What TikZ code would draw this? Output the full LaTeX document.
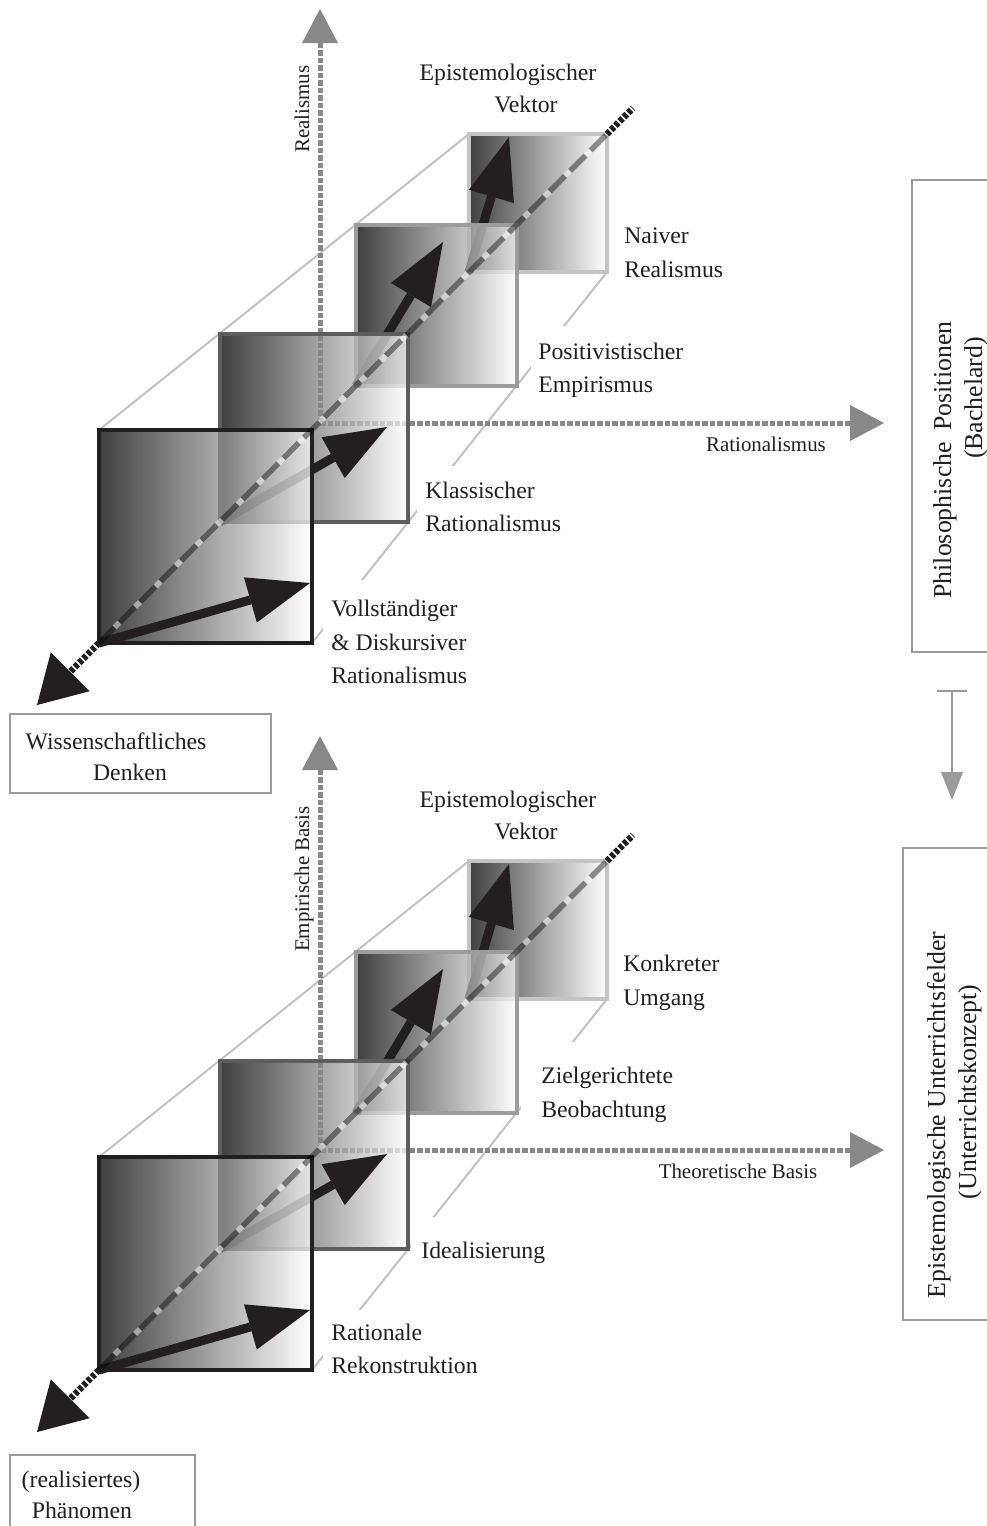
\documentclass[tikz,border=0pt]{standalone}
\usepackage{fontspec}
\setmainfont{Liberation Serif}
\usetikzlibrary{arrows.meta}
\definecolor{ink}{HTML}{231F20}
\definecolor{axisgray}{HTML}{888888}
\definecolor{persp}{HTML}{C2C2C2}
\definecolor{boxgray}{HTML}{9A9A9A}
\definecolor{bordA}{HTML}{231F20}
\definecolor{bordB}{HTML}{5E5C5C}
\definecolor{bordC}{HTML}{9C9C9C}
\definecolor{bordD}{HTML}{C4C4C4}
\newcommand\lblfont{\fontsize{13.5pt}{18.8pt}\selectfont}
\newcommand\sidefont{\fontsize{14.7pt}{18.8pt}\selectfont}
\newcommand\axfont{\fontsize{11.9pt}{14pt}\selectfont}
\tikzset{
  lbl/.style={font=\lblfont, inner sep=0pt, text=ink},
  sidelbl/.style={font=\sidefont, inner sep=0pt, text=ink, rotate=90, anchor=base},
  axlbl/.style={font=\axfont, inner sep=0pt, text=ink},
  persline/.style={draw=persp, line width=0.04cm},
  axisline/.style={draw=axisgray, line width=0.1cm, dash pattern=on 0.11cm off 0.04cm,
    -{Triangle[length=0.68cm,width=0.72cm,line width=0pt]}},
  sqbox/.style={line width=0.08cm, left color=black, right color=white, fill opacity=0.75},
  vec/.style={draw=ink, line width=0.18cm, -{Triangle[length=1.24cm,width=0.94cm,line width=0pt]}},
  diagout/.style={draw=ink, line width=0.13cm, dash pattern=on 0.08cm off 0.04cm},
  ghostdark/.style={draw=black, line width=0.11cm, draw opacity=0.42, dash pattern=on 0.44cm off 0.14cm},
  ghostlight/.style={draw=white, line width=0.11cm, draw opacity=0.45, dash pattern=on 0.14cm off 0.44cm, dash phase=0.14cm},
  textbox/.style={draw=boxgray, line width=0.04cm, inner sep=0pt},
  flow/.style={draw=boxgray, line width=0.04cm,
    {Bar[width=0.6cm]}-{Triangle[length=0.56cm,width=0.44cm,line width=0pt]}},
}
\newcommand\epiblock{%
  \draw[persline] (99,430) -- (469,134);
  \draw[persline] (312,643) -- (607,272);
  \draw[axisline] (320,423) -- (320,9);
  \draw[axisline] (320,423) -- (884,423);
  \path[sqbox, draw=bordD] (469,134) rectangle (607,272);
  \draw[vec] (469,272) -- (509,137);
  \path[sqbox, draw=bordC] (356,225) rectangle (517,386);
  \draw[vec] (356,386) -- (443,242);
  \path[sqbox, draw=bordB] (220,334) rectangle (408,522);
  \draw[vec] (220,522) -- (387,427);
  \path[sqbox, draw=bordA] (99,430) rectangle (312,643);
  \draw[vec] (99,643) -- (310,583);
  \draw[ghostdark] (99,643) -- (607,134);
  \draw[ghostlight] (99,643) -- (607,134);
  \draw[diagout, -{Triangle[length=0.94cm,width=1.1cm,line width=0pt]}] (99,643) -- (37,705);
  \draw[diagout] (607,134) -- (633,108);
}
\begin{document}
\begin{tikzpicture}[x=0.02cm, y=-0.02cm]
\useasboundingbox (0,0) rectangle (987,1526);
\clip (0,0) rectangle (987,1526);
\fill[white] (0,0) rectangle (987,1526);

\begin{scope}
  \epiblock
\end{scope}
\begin{scope}[shift={(0,727)}]
  \epiblock
\end{scope}

% white text frames hiding the perspective line
\fill[white] (531,326) rectangle (705,400);
\fill[white] (417,466) rectangle (570,540);
\fill[white] (323,580) rectangle (475,690);
\fill[white] (521,1042) rectangle (700,1125);
\fill[white] (411,1217) rectangle (560,1268);
\fill[white] (323,1310) rectangle (490,1385);

% top block labels
\node[lbl, anchor=base] (epiA1) at (508,80) {Epistemologischer};
\node[lbl, anchor=base] (epiA2) at (526,112) {Vektor};
\node[lbl, anchor=base west] (naivA) at (624,243) {Naiver};
\node[lbl, anchor=base west] (naivB) at (624,277) {Realismus};
\node[lbl, anchor=base west] (posA) at (538,359) {Positivistischer};
\node[lbl, anchor=base west] (posB) at (538,392) {Empirismus};
\node[lbl, anchor=base west] (klaA) at (425,498) {Klassischer};
\node[lbl, anchor=base west] (klaB) at (425,531) {Rationalismus};
\node[lbl, anchor=base west] (vollA) at (331,616) {Vollständiger};
\node[lbl, anchor=base west] (vollB) at (331,650) {\& Diskursiver};
\node[lbl, anchor=base west] (vollC) at (331,683) {Rationalismus};
\node[axlbl, anchor=base, rotate=90] (axReal) at (309,109) {Realismus};
\node[axlbl, anchor=base] (axRat) at (766,451) {Rationalismus};

% bottom block labels
\node[lbl, anchor=base] (epiB1) at (508,807) {Epistemologischer};
\node[lbl, anchor=base] (epiB2) at (526,839) {Vektor};
\node[lbl, anchor=base west] (konA) at (623,971) {Konkreter};
\node[lbl, anchor=base west] (konB) at (623,1005) {Umgang};
\node[lbl, anchor=base west] (zielA) at (541,1083) {Zielgerichtete};
\node[lbl, anchor=base west] (zielB) at (541,1117) {Beobachtung};
\node[lbl, anchor=base west] (ideal) at (421,1258) {Idealisierung};
\node[lbl, anchor=base west] (ratA) at (331,1340) {Rationale};
\node[lbl, anchor=base west] (ratB) at (331,1373) {Rekonstruktion};
\node[axlbl, anchor=base, rotate=90] (axEmp) at (309,879) {Empirische Basis};
\node[axlbl, anchor=base] (axTheo) at (738,1178) {Theoretische Basis};

% left boxes
\node[textbox, minimum width=5.22cm, minimum height=1.58cm] (wiss) at (140.5,753.5) {};
\node[lbl, anchor=base] (wissA) at (116,749) {Wissenschaftliches};
\node[lbl, anchor=base] (wissB) at (130,780) {Denken};
\node[textbox, minimum width=3.7cm, minimum height=1.7cm] (phaen) at (102.5,1497.5) {};
\node[lbl, anchor=base] (phaenA) at (81,1487) {(realisiertes)};
\node[lbl, anchor=base] (phaenB) at (82,1518) {Phänomen};

% right boxes
\node[textbox, minimum width=1.76cm, minimum height=9.44cm] (phil) at (956,416) {};
\node[sidelbl] (philA) at (951,460) {Philosophische\hspace{0.45em}Positionen};
\node[sidelbl] (philB) at (982,398) {(Bachelard)};
\node[textbox, minimum width=1.94cm, minimum height=9.44cm] (unter) at (951.5,1084) {};
\node[sidelbl] (unterA) at (945,1115) {Epistemologische Unterrichtsfelder};
\node[sidelbl] (unterB) at (976,1092) {(Unterrichtskonzept)};
\coordinate (flowS) at (952,690);
\coordinate (flowE) at (952,800);
\draw[flow] (flowS) -- (flowE);
\end{tikzpicture}
\end{document}
